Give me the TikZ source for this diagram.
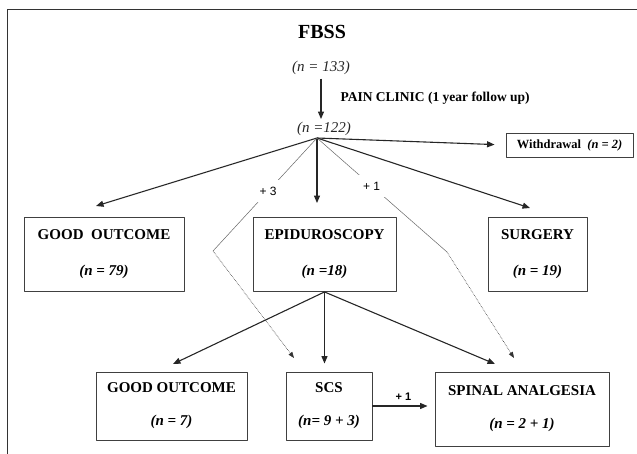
\documentclass[tikz,border=0pt]{standalone}
\usepackage{fontspec}
\setmainfont{Liberation Serif}
\newfontfamily\plusfont{Liberation Sans}
\usetikzlibrary{arrows.meta}
\begin{document}
\begin{tikzpicture}[x=1pt,y=-1pt,>={Triangle[length=7.5pt,width=6pt]}, line join=round,
  box/.style={draw=black!75,line width=0.9pt,inner sep=0pt,align=center,font=\fontsize{15}{18}\selectfont\bfseries},
  link/.style={->,line width=1.1pt,black!85},
  thinlink/.style={line width=0.5pt,black!60},
  dotlink/.style={-{Triangle[length=6pt,width=4.5pt]},densely dotted,line width=0.6pt,black!80},
  plus/.style={fill=white,text=black,inner sep=7pt,font=\plusfont\fontsize{12}{12}\selectfont}]
  \useasboundingbox (0,0) rectangle (637,454);
  \draw[line width=1.5pt,black!80] (637,9.5) -- (7.3,9.5) -- (7.3,454); % frame
  \node[anchor=base,font=\fontsize{20}{24}\selectfont\bfseries] (fbss) at (322,39) {FBSS};
  \node[anchor=base,font=\fontsize{15}{18}\selectfont\itshape,black!85] (n133) at (321,72) {(n = 133)};
  \node[anchor=base,font=\fontsize{15}{18}\selectfont\itshape,black!85] (n122) at (324,133) {(n =122)};
  \node[anchor=base west,font=\fontsize{13.5}{16}\selectfont\bfseries] (pain) at (337,102) {PAIN CLINIC (1 year follow up)};
  \coordinate (hub) at (317,138);
  \node[box,minimum width=127,minimum height=24,font=\fontsize{12.5}{15}\selectfont\bfseries] (wd) at (569.5,145) {Withdrawal\ \ \textit{(n = 2)}};
  \node[box,minimum width=160,minimum height=74] (good1) at (104,254) {GOOD\ \ OUTCOME\\[18pt]\textit{(n = 79)}};
  \node[box,minimum width=143,minimum height=74] (epi) at (324.5,254.5) {EPIDUROSCOPY\\[18pt]\textit{(n =18)}};
  \node[box,minimum width=99,minimum height=74] (surg) at (537.5,254.5) {SURGERY\\[18pt]\textit{(n = 19)}};
  \node[box,minimum width=151,minimum height=68] (good2) at (171.5,406) {GOOD OUTCOME\\[15pt]\textit{(n = 7)}};
  \node[box,minimum width=86,minimum height=68] (scs) at (329,406) {SCS\\[15pt]\textit{(n= 9 + 3)}};
  \node[box,minimum width=174,minimum height=74] (spinal) at (522,409) {SPINAL ANALGESIA\\[15pt]\textit{(n = 2 + 1)}};
  \coordinate (tgood1) at (96,206);
  \coordinate (tsurg) at (530,208);
  \coordinate (tgood2) at (173,364);
  \coordinate (tspin) at (495,364);
  \coordinate (b3) at (213,251);
  \coordinate (b1) at (447,252);
  \coordinate (tscs3) at (294,358);
  \coordinate (tspin1) at (514,358);
  \draw[link] (n133.south) -- (n133.south |- n122.north);
  \draw[link,shorten >=11pt] (hub) -- (wd.west);
  \draw[link] (hub) -- (tgood1);
  \draw[link,shorten >=14pt] (hub) -- (hub |- epi.north);
  \draw[link] (hub) -- (tsurg);
  \draw[link] (epi.south) -- (tgood2);
  \draw[link,shorten >=8pt] (epi.south) -- (epi.south |- scs.north);
  \draw[link] (epi.south) -- (tspin);
  \draw[link,shorten >=7pt] (scs.east) -- (scs.east -| spinal.west)
    node[midway,above=2pt,text=black,font=\plusfont\bfseries\fontsize{11}{11}\selectfont] (p1b) {+ 1};
  % transfers
  \draw[thinlink] (hub) -- node[plus,pos=0.47] (p3) {+ 3} (b3);
  \draw[dotlink] (b3) -- (tscs3);
  \draw[thinlink] (hub) -- node[plus,pos=0.42] (p1) {+ 1} (b1);
  \draw[dotlink] (b1) -- (tspin1);
\end{tikzpicture}
\end{document}
